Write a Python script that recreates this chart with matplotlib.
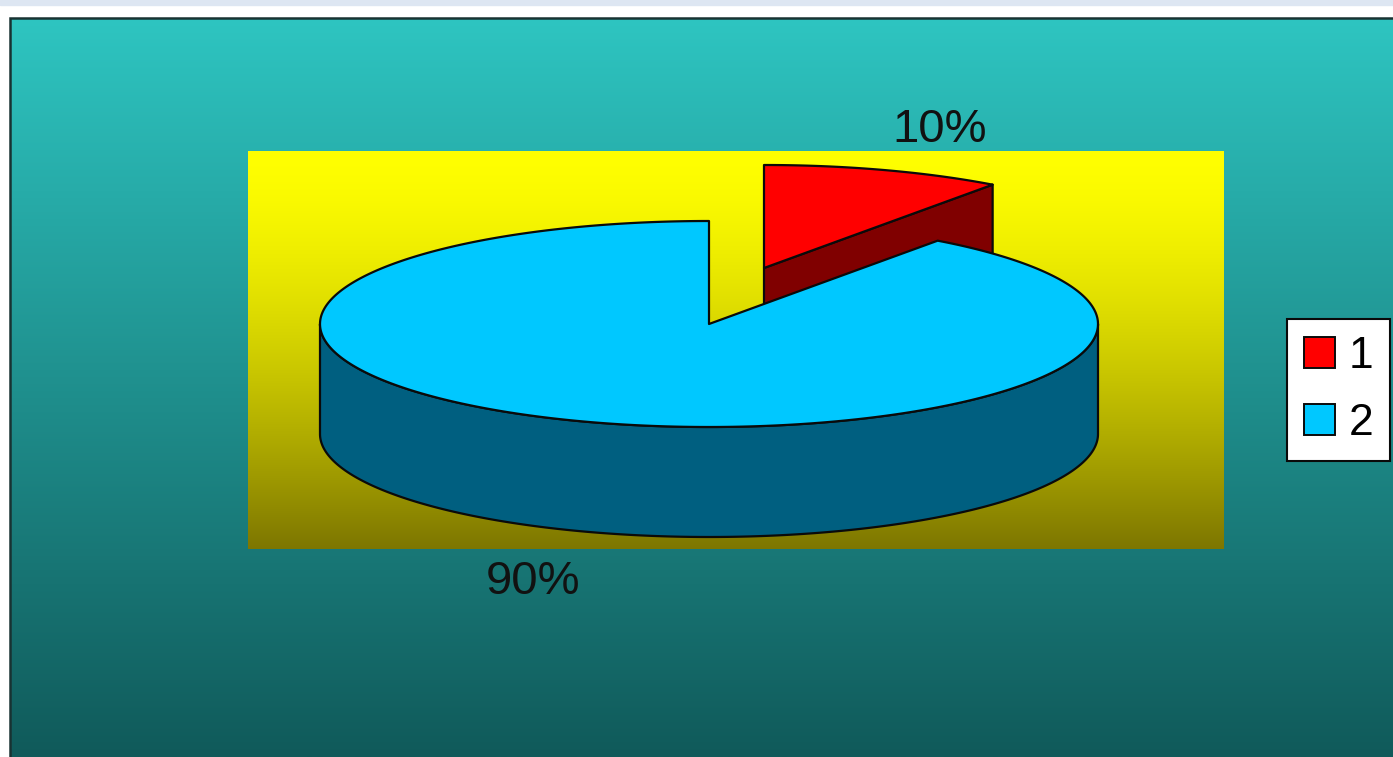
import numpy as np
import matplotlib
matplotlib.use("Agg")
import matplotlib.pyplot as plt
from matplotlib.patches import Polygon, Rectangle, Patch

# ---- data ----
categories = ["1", "2"]
values = [10, 90]
top_colors = ["#ff0000", "#00c8ff"]
side_colors = ["#800000", "#005f80"]
exploded = [True, False]

plt.rcParams["font.family"] = ["Liberation Sans", "DejaVu Sans"]

W, H = 1393, 757
fig = plt.figure(figsize=(W / 100, H / 100), dpi=100, facecolor="white")
ax = fig.add_axes([0, 0, 1, 1])
ax.axis("off")

# ---- page header strip and chart frame ----
ax.add_patch(Rectangle((0, 0), W, 5, color="#dde6f2", zorder=0))

t = np.linspace(0, 1, 512)[:, None]
teal_top = np.array([46, 197, 193]) / 255
teal_bot = np.array([16, 90, 90]) / 255
bg = teal_top * (1 - t) + teal_bot * t
ax.imshow(bg[:, None, :], extent=(10, W, H, 18), aspect="auto",
          interpolation="bilinear", zorder=1)
ax.plot([9.5, 9.5, W], [H, 17.5, 17.5], color="#183232", lw=1.8, zorder=2,
        solid_joinstyle="miter")

# ---- plot area (yellow gradient wall) ----
yel_top = np.array([255, 255, 0]) / 255
yel_bot = np.array([125, 118, 0]) / 255
ty = t ** 1.5
yb = yel_top * (1 - ty) + yel_bot * ty
ax.imshow(yb[:, None, :], extent=(248, 1224, 549, 151), aspect="auto",
          interpolation="bilinear", zorder=2)

# ---- 3D pie geometry ----
cx, cy = 709.0, 324.0       # centre of the top face
a, b = 389.0, 103.0         # ellipse semi-axes of the top face
depth = 110.0               # thickness of the pie
explode_off = np.array([55.0, -56.0])
edge_kw = dict(edgecolor="#0a0a0a", linewidth=1.6, joinstyle="round")

total = float(sum(values))
slices = []
start = 90.0
for i, v in enumerate(values):
    th1 = start
    th2 = start - 360.0 * v / total
    start = th2
    c = np.array([cx, cy]) + (explode_off if exploded[i] else 0.0)
    slices.append(dict(i=i, th1=th1, th2=th2, c=c, mid=(th1 + th2) / 2))


def rim(c, th_deg, dz=0.0):
    th = np.radians(th_deg)
    return np.column_stack([c[0] + a * np.cos(th), c[1] - b * np.sin(th) + dz])


def front_ranges(lo, hi):
    out = []
    for k in range(-2, 3):
        s, e = -180 + 360 * k, 360 * k
        s2, e2 = max(lo, s), min(hi, e)
        if e2 > s2:
            out.append((s2, e2))
    return out


# draw back-to-front
order = sorted(slices, key=lambda s: -np.sin(np.radians(s["mid"])))
z = 3
for s in order:
    i, c, th1, th2 = s["i"], s["c"], s["th1"], s["th2"]
    # radial cut faces that look toward the viewer
    for th, vis in ((th1, np.cos(np.radians(th1)) < -1e-6),
                    (th2, np.cos(np.radians(th2)) > 1e-6)):
        if vis:
            p_out = rim(c, np.array([th]))[0]
            quad = np.array([c, p_out, p_out + [0, depth], c + [0, depth]])
            ax.add_patch(Polygon(quad, closed=True, facecolor=side_colors[i],
                                 zorder=z, **edge_kw))
    # outer curved wall (front half only)
    for lo, hi in front_ranges(th2, th1):
        ang = np.linspace(lo, hi, 200)
        wall = np.vstack([rim(c, ang), rim(c, ang[::-1], depth)])
        ax.add_patch(Polygon(wall, closed=True, facecolor=side_colors[i],
                             zorder=z + 1, **edge_kw))
    # top face
    ang = np.linspace(th1, th2, 400)
    top = np.vstack([c, rim(c, ang)])
    ax.add_patch(Polygon(top, closed=True, facecolor=top_colors[i],
                         zorder=z + 2, **edge_kw))
    z += 3

# ---- percentage labels ----
for s in slices:
    th = np.radians(s["mid"])
    r = 1.46
    x = s["c"][0] + a * r * np.cos(th)
    y = s["c"][1] - b * r * np.sin(th) + (depth if np.sin(th) < 0 else 0.0)
    pct = 100.0 * values[s["i"]] / total
    ax.text(x, y + 5, f"{pct:.0f}%", ha="center", va="center", fontsize=34,
            color="#111111", zorder=20)

# ---- legend ----
handles = [Patch(facecolor=col, edgecolor="#0a0a0a", linewidth=1.4)
           for col in top_colors]
leg = ax.legend(handles, categories, loc="center left",
                bbox_to_anchor=(1287 / W, 1 - 390 / H),
                bbox_transform=fig.transFigure, fontsize=32, frameon=True,
                fancybox=False, edgecolor="#0a0a0a", framealpha=1,
                handlelength=0.7, handleheight=0.7, handletextpad=0.3,
                borderpad=0.38, labelspacing=0.6, borderaxespad=0)
leg.get_frame().set_linewidth(1.5)
leg.set_zorder(30)

ax.set_xlim(0, W)
ax.set_ylim(H, 0)
fig.savefig("out.png", dpi=100, facecolor="white")
